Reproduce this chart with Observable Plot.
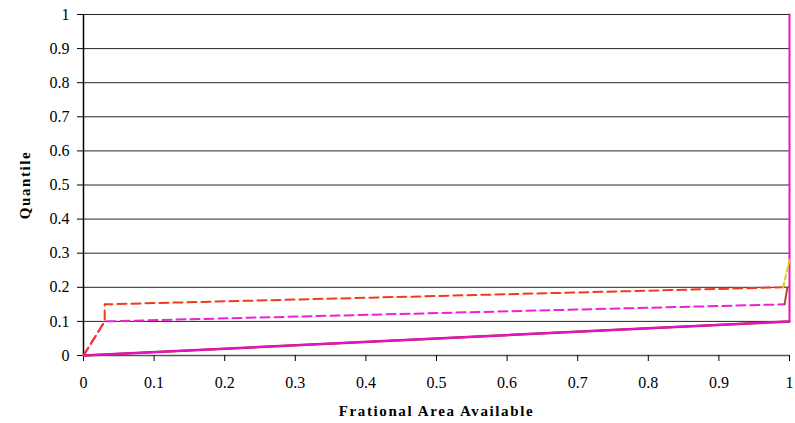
<!DOCTYPE html>
<html>
<head>
<meta charset="utf-8">
<script src="https://cdn.jsdelivr.net/npm/d3@7"></script>
<script src="https://cdn.jsdelivr.net/npm/@observablehq/plot@0.6"></script>
<style>
  html, body { margin: 0; padding: 0; background: #fff; }
  #chart svg, #chart svg text, #chart svg g { font-family: "Liberation Serif" !important; }
  #chart [aria-label="x-axis label"] text, #chart [aria-label="y-axis label"] text { font-weight: bold; letter-spacing: 1.6px; font-size: 15px; }
</style>
</head>
<body>
<div id="chart"></div>
<script>
// Tick values
const xTicks = [0, 0.1, 0.2, 0.3, 0.4, 0.5, 0.6, 0.7, 0.8, 0.9, 1];
const yTicks = [0, 0.1, 0.2, 0.3, 0.4, 0.5, 0.6, 0.7, 0.8, 0.9, 1];

// Series
const solidBrownX = [0, 1];
const solidBrownY = [0, 0.1];
const solidMagentaX = [0, 1, 1];
const solidMagentaY = [0, 0.1, 1];
const redDashX = [0, 0.03, 0.03, 0.99, 0.995];
const redDashY = [0, 0.1, 0.15, 0.2, 0.21];
const magentaDashX = [0, 0.03, 0.993];
const magentaDashY = [0, 0.1, 0.15];
const brownTailX = [0.993, 0.997];
const brownTailY = [0.15, 0.2];
const yellowDashX = [0.991, 1];
const yellowDashY = [0.2, 0.28];

const rows = (xs, ys) => xs.map((x, i) => ({x, y: ys[i]}));

const chart = Plot.plot({
  width: 795,
  height: 423,
  marginLeft: 83,
  marginRight: 6,
  marginTop: 14,
  marginBottom: 68,
  style: {fontSize: "16px", color: "#000", background: "#fff", fontFamily: "Liberation Serif"},
  x: {domain: [0, 1]},
  y: {domain: [0, 1]},
  marks: [
    Plot.ruleY(yTicks.filter(d => d > 0), {stroke: "#000", strokeWidth: 1, strokeOpacity: 0.85}),
    Plot.ruleY([0], {stroke: "#555", strokeWidth: 1.5}),
    Plot.ruleX([0], {stroke: "#000", strokeWidth: 1.5}),
    Plot.axisY({ticks: yTicks, tickSize: 6, tickPadding: 8, tickFormat: d => String(d), fontSize: 16, fontFamily: "Liberation Serif",
      label: "Quantile", labelAnchor: "center", labelOffset: 64, labelArrow: false}),
    Plot.axisX({ticks: xTicks, tickSize: 6, tickPadding: 15, tickFormat: d => String(d), fontSize: 16, fontFamily: "Liberation Serif",
      label: "Frational Area Available", labelAnchor: "center", labelOffset: 60, labelArrow: false}),
    Plot.line(rows(solidBrownX, solidBrownY), {x: "x", y: "y", stroke: "#9a2040", strokeWidth: 2.5}),
    Plot.line(rows(solidMagentaX, solidMagentaY), {x: "x", y: "y", stroke: "#ee10c8", strokeWidth: 2}),
    Plot.line(rows(magentaDashX, magentaDashY), {x: "x", y: "y", stroke: "#f020d8", strokeWidth: 2, strokeDasharray: "9,5"}),
    Plot.line(rows(brownTailX, brownTailY), {x: "x", y: "y", stroke: "#b05020", strokeWidth: 2}),
    Plot.line(rows(redDashX, redDashY), {x: "x", y: "y", stroke: "#f03a1e", strokeWidth: 2, strokeDasharray: "9,5"}),
    Plot.line(rows(yellowDashX, yellowDashY), {x: "x", y: "y", stroke: "#d8d020", strokeWidth: 2, strokeDasharray: "5,3"})
  ]
});
document.getElementById("chart").appendChild(chart);
</script>
</body>
</html>
